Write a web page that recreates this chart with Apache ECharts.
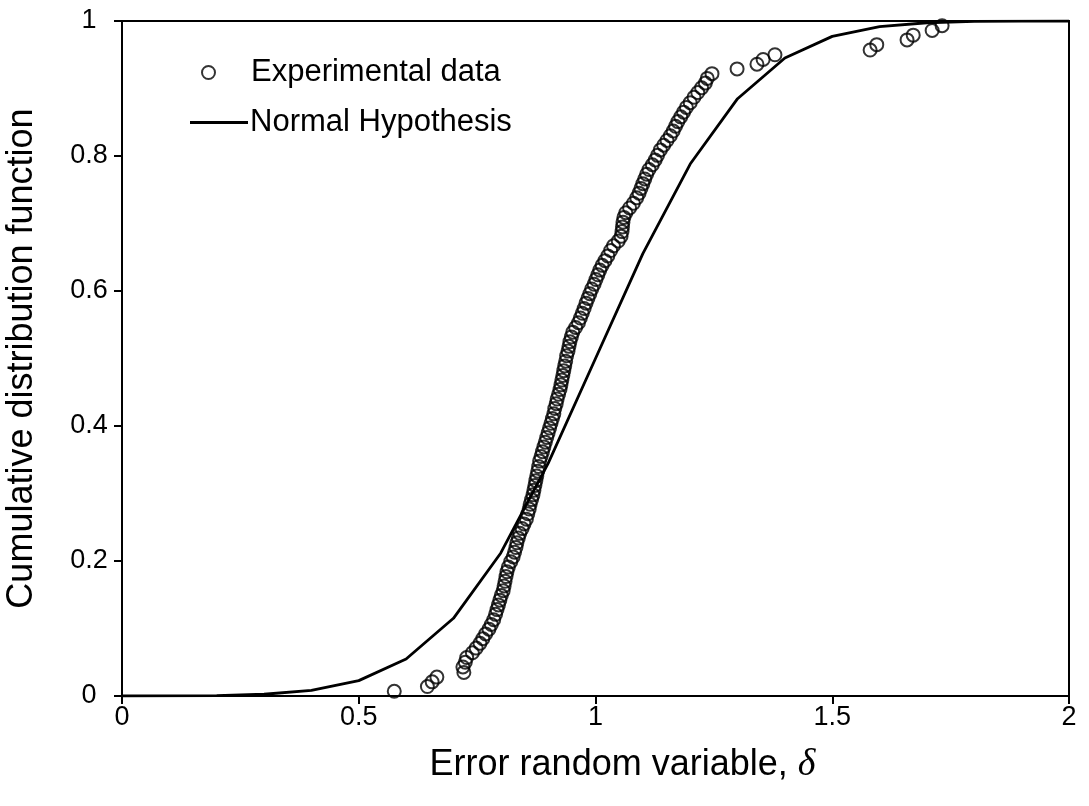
<!DOCTYPE html>
<html>
<head>
<meta charset="utf-8">
<script src="https://cdn.jsdelivr.net/npm/echarts@6/dist/echarts.min.js"></script>
<style>html,body{margin:0;padding:0;background:#fff;}#chart{width:1089px;height:806px;}</style>
</head>
<body>
<div id="chart"></div>
<script>
// Experimental data (x = error random variable, y = cumulative probability)
const expX = [
0.575,0.645,0.655,0.665,0.722,0.720,0.725,0.728,0.740,0.748,
0.756,0.762,0.768,0.775,0.780,0.785,0.789,0.792,0.795,0.798,
0.801,0.805,0.807,0.809,0.811,0.813,0.816,0.821,0.826,0.829,
0.832,0.834,0.837,0.840,0.845,0.849,0.854,0.857,0.860,0.862,
0.865,0.868,0.870,0.872,0.874,0.876,0.878,0.880,0.882,0.885,
0.888,0.891,0.894,0.897,0.900,0.903,0.906,0.909,0.912,0.914,
0.917,0.919,0.922,0.925,0.927,0.929,0.931,0.933,0.935,0.937,
0.939,0.942,0.944,0.946,0.949,0.952,0.958,0.964,0.968,0.972,
0.976,0.980,0.984,0.988,0.992,0.997,1.001,1.005,1.009,1.014,
1.020,1.026,1.032,1.038,1.048,1.054,1.056,1.057,1.058,1.060,
1.064,1.072,1.080,1.087,1.092,1.096,1.100,1.104,1.108,1.113,
1.120,1.126,1.131,1.137,1.144,1.151,1.158,1.164,1.169,1.174,
1.180,1.186,1.192,1.200,1.208,1.216,1.224,1.232,1.236,1.246,
1.299,1.341,1.354,1.379,1.580,1.594,1.658,1.671,1.711,1.732
];
const expY = [
0.007,0.014,0.021,0.028,0.035,0.043,0.050,0.057,0.064,0.071,
0.078,0.085,0.092,0.099,0.106,0.113,0.121,0.128,0.135,0.142,
0.149,0.156,0.163,0.170,0.177,0.184,0.191,0.199,0.206,0.213,
0.220,0.227,0.234,0.241,0.248,0.255,0.262,0.270,0.277,0.284,
0.291,0.298,0.305,0.312,0.319,0.326,0.333,0.340,0.348,0.355,
0.362,0.369,0.376,0.383,0.390,0.397,0.404,0.411,0.418,0.426,
0.433,0.440,0.447,0.454,0.461,0.468,0.475,0.482,0.489,0.496,
0.504,0.511,0.518,0.525,0.532,0.539,0.546,0.553,0.560,0.567,
0.574,0.582,0.589,0.596,0.603,0.610,0.617,0.624,0.631,0.638,
0.645,0.652,0.660,0.667,0.674,0.681,0.688,0.695,0.702,0.709,
0.716,0.723,0.730,0.738,0.745,0.752,0.759,0.766,0.773,0.780,
0.787,0.794,0.801,0.809,0.816,0.823,0.830,0.837,0.844,0.851,
0.858,0.865,0.872,0.879,0.887,0.894,0.901,0.908,0.915,0.922,
0.929,0.936,0.943,0.950,0.957,0.965,0.972,0.979,0.986,0.993
];
// Normal hypothesis curve
const normX = [0,0.1,0.2,0.3,0.4,0.5,0.6,0.7,0.8,0.9,1.0,1.1,1.2,1.3,1.4,1.5,1.6,1.7,1.8,1.9,2.0];
const normY = [0,0.0002,0.0007,0.0026,0.0082,0.0228,0.0548,0.1151,0.2119,0.3446,0.5,0.6554,0.7881,0.8849,0.9452,0.9772,0.9918,0.9974,0.9993,0.9998,1.0];
const xTicks = ['0','0.5','1','1.5','2'];
const yTicks = ['0','0.2','0.4','0.6','0.8','1'];

const chart = echarts.init(document.getElementById('chart'));
const font = 'Liberation Sans, Arial, sans-serif';
chart.setOption({
  animation: false,
  backgroundColor: '#fff',
  grid: { left: 122, right: 20, top: 21, bottom: 110, outerBoundsMode: 'none', containLabel: false,
          show: true, borderColor: '#000', borderWidth: 2, backgroundColor: 'transparent' },
  legend: [
    { data: ['Experimental data'], left: 196, top: 52, orient: 'vertical', itemWidth: 13, itemHeight: 13,
      textStyle: { fontFamily: font, fontSize: 31, color: '#000', padding: [0,0,0,31] } },
    { data: [{ name: 'Normal Hypothesis', icon: 'rect' }], left: 185, top: 102, orient: 'vertical', itemWidth: 58, itemHeight: 3,
      itemStyle: { color: '#000' },
      textStyle: { fontFamily: font, fontSize: 31, color: '#000', padding: [0,0,0,-3] } }
  ],
  xAxis: {
    type: 'value', min: 0, max: 2, interval: 0.5,
    name: '{a|Error random variable, }{d|δ}', nameLocation: 'middle', nameGap: 50,
    nameTextStyle: { padding: [0,0,0,54], rich: { a: { fontFamily: font, fontSize: 36, color: '#000' }, d: { fontFamily: 'Liberation Serif, serif', fontStyle: 'italic', fontSize: 38, color: '#000' } } },
    axisLine: { onZero: false, lineStyle: { color: '#000', width: 2 } },
    axisTick: { show: true, inside: false, length: 8, lineStyle: { color: '#000', width: 2 } },
    axisLabel: { fontFamily: font, fontSize: 27, color: '#000', margin: 8, formatter: v => xTicks[Math.round(v / 0.5)] },
    splitLine: { show: false }
  },
  yAxis: {
    type: 'value', min: 0, max: 1, interval: 0.2,
    name: 'Cumulative distribution function', nameLocation: 'middle', nameGap: 82,
    nameTextStyle: { fontFamily: font, fontSize: 36, color: '#000' },
    axisLine: { onZero: false, lineStyle: { color: '#000', width: 2 } },
    axisTick: { show: true, inside: false, length: 8, lineStyle: { color: '#000', width: 2 } },
    axisLabel: { fontFamily: font, fontSize: 27, color: '#000', margin: 33, align: 'center', formatter: v => yTicks[Math.round(v / 0.2)] },
    splitLine: { show: false }
  },
  series: [
    {
      name: 'Normal Hypothesis', type: 'line', showSymbol: false, symbol: 'none',
      data: normX.map((x, i) => [x, normY[i]]),
      lineStyle: { color: '#000', width: 2.8 }, itemStyle: { color: '#000' }, z: 2
    },
    {
      name: 'Experimental data', type: 'scatter', symbol: 'circle', symbolSize: 13,
      data: expX.map((x, i) => [x, expY[i]]),
      itemStyle: { color: 'rgba(0,0,0,0)', borderColor: '#000', borderWidth: 2 }, z: 3
    }
  ]
});
</script>
</body>
</html>
